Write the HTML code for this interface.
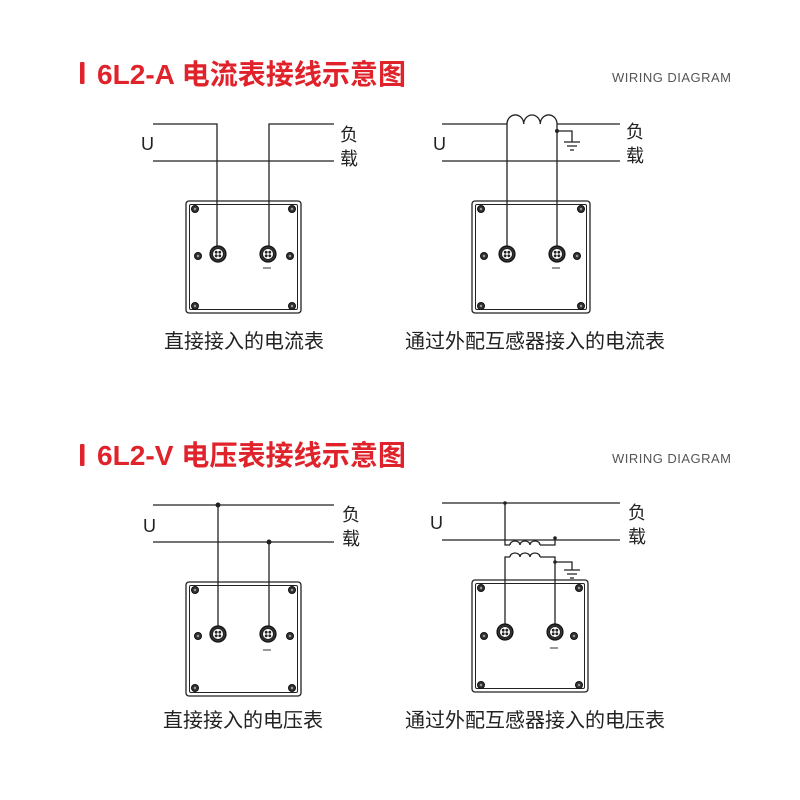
<!DOCTYPE html>
<html><head><meta charset="utf-8"><style>
body{margin:0;background:#fff;}
svg{display:block;}
.t{font-family:"Liberation Sans","Noto Sans CJK SC",sans-serif;}
</style></head><body>
<svg width="800" height="800" viewBox="0 0 800 800" xmlns="http://www.w3.org/2000/svg">
<defs>
<g id="term"><circle r="8" fill="#333" stroke="#111" stroke-width="1.2"/><circle r="5.5" fill="#fff" stroke="#222" stroke-width="1"/><circle cx="-1.8" cy="-1.8" r="1.4" fill="#222"/><circle cx="1.8" cy="-1.8" r="1.4" fill="#222"/><circle cx="-1.8" cy="1.8" r="1.4" fill="#222"/><circle cx="1.8" cy="1.8" r="1.4" fill="#222"/></g>
<g id="scr"><circle r="3.5" fill="#333" stroke="#111" stroke-width="1"/><circle r="1.2" fill="#999"/></g>
</defs>
<g stroke="#222" fill="none" stroke-width="1.3">
<path d="M153 124H217V246M269 246V124H334M153 161H334"/>
<rect x="186" y="201" width="115" height="112" rx="3"/>
<rect x="189.5" y="204.5" width="108" height="105" rx="1.5" stroke-width="1"/>
<path d="M442 124H507M557 124H620M442 161H620M507 124V246M557 124V246M557 131H572V142"/>
<path d="M507 124A8.3 9 0 0 1 523.7 124A8.3 9 0 0 1 540.3 124A8.3 9 0 0 1 557 124"/>
<path d="M564 142H580M567 146H577M570 150H574"/>
<rect x="472" y="201" width="118" height="112" rx="3"/>
<rect x="475.5" y="204.5" width="111" height="105" rx="1.5" stroke-width="1"/>
<path d="M153 505H334M153 542H334M218 505V626M269 542V626"/>
<rect x="186" y="582" width="115" height="114" rx="3"/>
<rect x="189.5" y="585.5" width="108" height="107" rx="1.5" stroke-width="1"/>
<path d="M442 503H620M442 540H620M505 503V545H510M540 545H555V538"/>
<path d="M510 545A5 4 0 0 1 520 545A5 4 0 0 1 530 545A5 4 0 0 1 540 545"/>
<path d="M505 624V557H510M540 557H555V624M555 562H572V570"/>
<path d="M510 557A5 4 0 0 1 520 557A5 4 0 0 1 530 557A5 4 0 0 1 540 557"/>
<path d="M564 570H580M567 574H577M570 578H574"/>
<rect x="472" y="580" width="116" height="112" rx="3"/>
<rect x="475.5" y="583.5" width="109" height="105" rx="1.5" stroke-width="1"/>
</g>
<g fill="#222">
<circle cx="557" cy="131" r="2"/><circle cx="218" cy="505" r="2.5"/><circle cx="269" cy="542" r="2.5"/>
<circle cx="505" cy="503" r="1.8"/><circle cx="555" cy="538" r="1.8"/><circle cx="555" cy="562" r="1.8"/>
</g>
<use href="#term" x="218" y="254"/><use href="#term" x="268" y="254"/>
<use href="#term" x="507" y="254"/><use href="#term" x="557" y="254"/>
<use href="#term" x="218" y="634"/><use href="#term" x="268" y="634"/>
<use href="#term" x="505" y="632"/><use href="#term" x="555" y="632"/>
<g>
<use href="#scr" x="195" y="209"/><use href="#scr" x="292" y="209"/><use href="#scr" x="195" y="306"/><use href="#scr" x="292" y="306"/><use href="#scr" x="198" y="256"/><use href="#scr" x="290" y="256"/>
<use href="#scr" x="481" y="209"/><use href="#scr" x="581" y="209"/><use href="#scr" x="481" y="306"/><use href="#scr" x="581" y="306"/><use href="#scr" x="484" y="256"/><use href="#scr" x="577" y="256"/>
<use href="#scr" x="195" y="590"/><use href="#scr" x="292" y="590"/><use href="#scr" x="195" y="688"/><use href="#scr" x="292" y="688"/><use href="#scr" x="198" y="636"/><use href="#scr" x="290" y="636"/>
<use href="#scr" x="481" y="588"/><use href="#scr" x="579" y="588"/><use href="#scr" x="481" y="685"/><use href="#scr" x="579" y="685"/><use href="#scr" x="484" y="636"/><use href="#scr" x="574" y="636"/>
</g>
<g stroke="#333" stroke-width="1"><path d="M263 268H271M552 268H560M263 650H271M550 648H558"/></g>
<g fill="#e0222b"><rect x="80" y="62" width="4.5" height="22" rx="1"/><rect x="80" y="444" width="4.5" height="22" rx="1"/></g>
<g class="t" fill="#e0222b" font-size="28" font-weight="bold">
<text x="97" y="84" textLength="309" lengthAdjust="spacingAndGlyphs">6L2-A 电流表接线示意图</text>
<text x="97" y="465" textLength="309" lengthAdjust="spacingAndGlyphs">6L2-V 电压表接线示意图</text>
</g>
<g class="t" fill="#555" font-size="13">
<text x="612" y="82" textLength="119">WIRING DIAGRAM</text>
<text x="612" y="463" textLength="119">WIRING DIAGRAM</text>
</g>
<g class="t" fill="#222" font-size="18">
<text x="141" y="150">U</text><text x="433" y="150">U</text>
<text x="143" y="532">U</text><text x="430" y="529">U</text>
<text x="340" y="141">负</text><text x="340" y="165">载</text>
<text x="626" y="138">负</text><text x="626" y="162">载</text>
<text x="342" y="521">负</text><text x="342" y="545">载</text>
<text x="628" y="519">负</text><text x="628" y="543">载</text>
</g>
<g class="t" fill="#222" font-size="20" text-anchor="middle">
<text x="244" y="348">直接接入的电流表</text>
<text x="535" y="348">通过外配互感器接入的电流表</text>
<text x="243" y="727">直接接入的电压表</text>
<text x="535" y="727">通过外配互感器接入的电压表</text>
</g>
</svg>
</body></html>
